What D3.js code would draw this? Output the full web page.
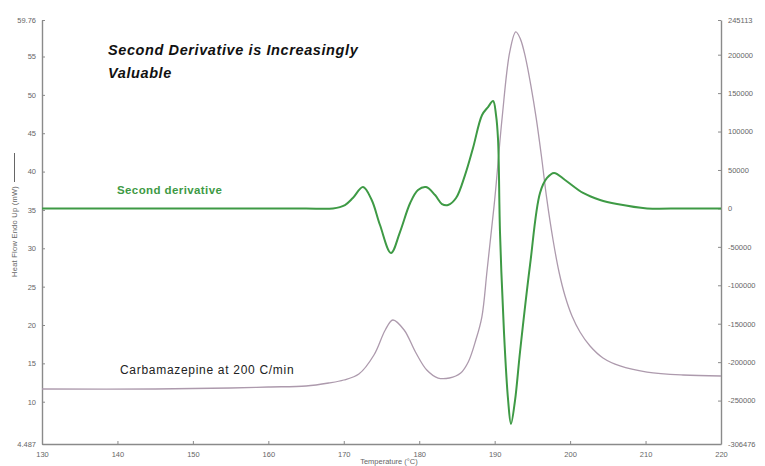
<!DOCTYPE html>
<meta charset="utf-8">
<html>
<head>
    <script src="https://d3js.org/d3.v7.js"></script>
    <style>
        body { margin: 0; background: #fff; }
        text { font-family: "Liberation Sans", Arial, sans-serif; }
    </style>
</head>
<body>
<script>
    // Heat flow trace (temperature C, mW)
    var hfTemp = [130, 145, 155, 160, 165, 168, 170, 172, 174, 175.5, 176.5, 178, 179.5, 181, 182.5, 184,
        185.5, 186.5, 187.5, 188.3, 189, 190, 191, 192, 192.8, 193.4, 194.1, 194.8, 195.5, 196.2, 196.9,
        197.74, 198.53, 199.33, 200.25, 201.31, 202.64, 204.36, 206.62, 210.2, 214.97, 220];
    var hfValue = [11.66, 11.66, 11.79, 11.92, 12.05, 12.44, 12.83, 13.61, 16.09, 19.35, 20.65, 19.35, 16.48,
        14.13, 13.09, 13.09, 13.74, 15.18, 18.04, 21.04, 27.17, 36.30, 47.12, 55.59, 58.20, 57.3, 54.8,
        51.2, 47.0, 42.0, 36.5, 31.08, 26.91, 23.78, 21.17, 19.09, 17.26, 15.70, 14.66, 13.87, 13.48, 13.35];

    // Second derivative trace (temperature C, right axis units)
    var d2Temp = [130, 140, 150, 160, 165, 168.57, 170.16, 171.2, 172.55, 173.7, 174.8, 176.26, 177.45, 178.8,
        179.84, 180.9, 182.1, 183.02, 183.82, 184.88, 186.07, 187.13, 188.33, 189.12, 189.79, 190.18, 190.45,
        190.71, 191.24, 191.78, 192.16, 192.7, 193.36, 194.69, 196.01, 196.94, 197.87, 199.33, 201.72,
        203.97, 206.22, 210.2, 215, 220];
    var d2Value = [0, 0, 0, 0, 0, 0, 4400, 13500, 27800, 10900, -21600, -58000, -30700, 7000,
        23900, 27800, 17400, 5700, 4400, 13500, 43400, 78600, 121500, 131900, 139700, 121500, 89000,
        -32000, -162000, -249200, -280400, -249700, -186800, -73600, 20100, 39600, 46100, 37000, 20100,
        10900, 5700, 0, 0, 0];

    var xTicks = [130, 140, 150, 160, 170, 180, 190, 200, 210, 220];
    var leftTicks = [4.487, 10, 15, 20, 25, 30, 35, 40, 45, 50, 55, 59.76];
    var rightTicks = [-306476, -250000, -200000, -150000, -100000, -50000, 0, 50000, 100000, 150000, 200000, 245113];

    var width = 765, height = 466;
    var margin = {top: 20, right: 44, bottom: 22, left: 42};

    var svg = d3.select("body").append("svg")
        .attr("width", width)
        .attr("height", height);

    var x = d3.scaleLinear().domain([130, 220]).range([margin.left, width - margin.right]);
    var yLeft = d3.scaleLinear().domain([4.487, 59.76]).range([height - margin.bottom, margin.top]);
    var yRight = d3.scaleLinear().domain([-306476, 245113]).range([height - margin.bottom, margin.top]);

    function styleAxis(g) {
        g.select(".domain").attr("stroke", "#8a8a8a").attr("stroke-width", 1.4);
        g.selectAll(".tick line").attr("stroke", "#8a8a8a");
        g.selectAll(".tick text")
            .attr("fill", "#666")
            .style("font-size", "7.5px")
            .style("font-family", "Liberation Sans, Arial, sans-serif");
    }

    svg.append("g")
        .attr("transform", `translate(0,${height - margin.bottom})`)
        .call(d3.axisBottom(x).tickValues(xTicks).tickSize(-3).tickSizeOuter(0).tickPadding(8)
            .tickFormat(d3.format("d")))
        .call(styleAxis);

    svg.append("g")
        .attr("transform", `translate(${margin.left},0)`)
        .call(d3.axisLeft(yLeft).tickValues(leftTicks).tickSize(-3).tickSizeOuter(0).tickPadding(6)
            .tickFormat(function(d) { return String(d); }))
        .call(styleAxis);

    svg.append("g")
        .attr("transform", `translate(${width - margin.right},0)`)
        .call(d3.axisRight(yRight).tickValues(rightTicks).tickSize(-3).tickSizeOuter(0).tickPadding(7)
            .tickFormat(function(d) { return String(d); }))
        .call(styleAxis);

    // axis titles
    svg.append("text")
        .attr("x", 389)
        .attr("y", 464)
        .attr("text-anchor", "middle")
        .attr("fill", "#666")
        .style("font-size", "7.5px")
        .text("Temperature (°C)");

    svg.append("text")
        .attr("transform", "translate(17,186) rotate(-90)")
        .attr("text-anchor", "end")
        .attr("fill", "#666")
        .style("font-size", "7.5px")
        .style("letter-spacing", "0.25px")
        .text("Heat Flow Endo Up (mW)");

    svg.append("line")
        .attr("x1", 14.5).attr("x2", 14.5)
        .attr("y1", 182).attr("y2", 153)
        .attr("stroke", "#666")
        .attr("stroke-width", 1);

    // curves
    var hfData = hfTemp.map(function(t, i) { return {t: t, v: hfValue[i]}; });
    var d2Data = d2Temp.map(function(t, i) { return {t: t, v: d2Value[i]}; });

    svg.append("path")
        .datum(hfData)
        .attr("fill", "none")
        .attr("stroke", "#ad9aad")
        .attr("stroke-width", 1.3)
        .attr("d", d3.line()
            .x(function(d) { return x(d.t); })
            .y(function(d) { return yLeft(d.v); })
            .curve(d3.curveCatmullRom.alpha(0.5)));

    svg.append("path")
        .datum(d2Data)
        .attr("fill", "none")
        .attr("stroke", "#3e9a45")
        .attr("stroke-width", 2)
        .attr("d", d3.line()
            .x(function(d) { return x(d.t); })
            .y(function(d) { return yRight(d.v); })
            .curve(d3.curveCatmullRom.alpha(0.5)));

    // annotations
    svg.append("text")
        .attr("x", 108).attr("y", 55)
        .style("font-size", "14.5px").style("font-weight", "bold").style("font-style", "italic")
        .style("letter-spacing", "0.6px")
        .attr("fill", "#111")
        .text("Second Derivative is Increasingly");

    svg.append("text")
        .attr("x", 108).attr("y", 78)
        .style("font-size", "14.5px").style("font-weight", "bold").style("font-style", "italic")
        .style("letter-spacing", "0.6px")
        .attr("fill", "#111")
        .text("Valuable");

    svg.append("text")
        .attr("x", 117).attr("y", 194)
        .style("font-size", "11.5px").style("font-weight", "bold")
        .style("letter-spacing", "0.4px")
        .attr("fill", "#3e9a45")
        .text("Second derivative");

    svg.append("text")
        .attr("x", 120).attr("y", 374)
        .style("font-size", "12px")
        .style("letter-spacing", "0.7px")
        .attr("fill", "#222")
        .text("Carbamazepine at 200 C/min");
</script>
</body>
</html>
